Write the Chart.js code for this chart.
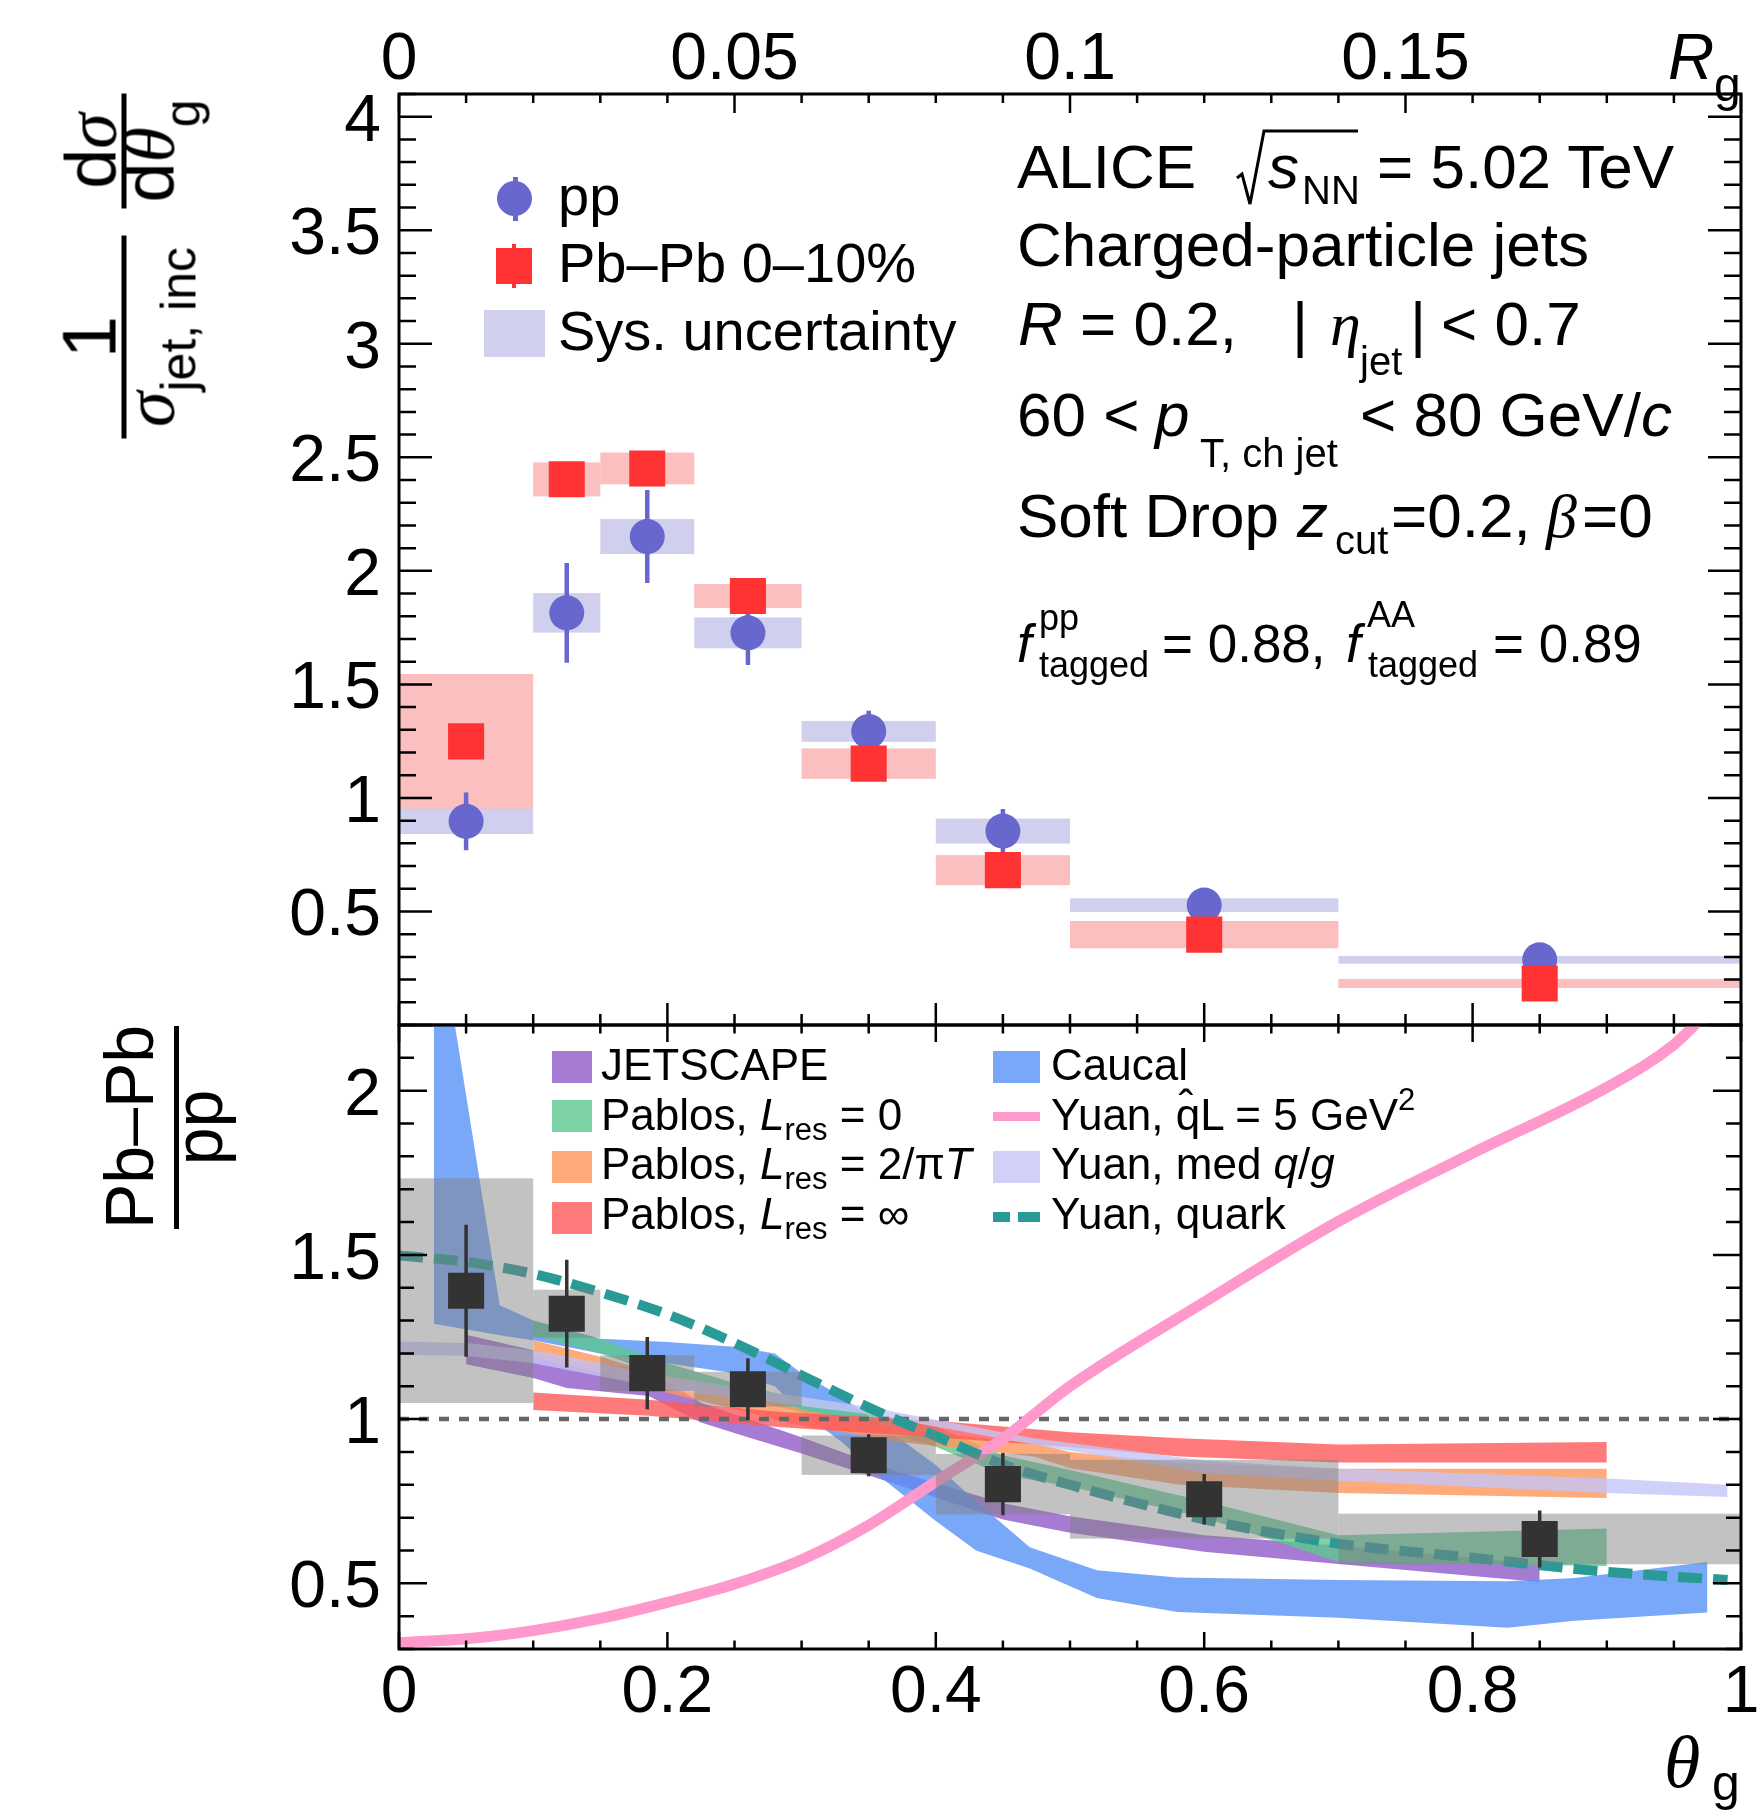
<!DOCTYPE html>
<html>
<head>
<meta charset="utf-8">
<title>ALICE groomed jet radius, Pb-Pb vs pp</title>
<script src="https://cdn.jsdelivr.net/npm/chart.js@4.4.1/dist/chart.umd.min.js"></script>
<style>
  html, body { margin: 0; padding: 0; background: #fff; }
  #wrap { position: relative; width: 1757px; height: 1815px; overflow: hidden; background: #fff;
          font-family: "Liberation Sans", Arial, Helvetica, sans-serif; color: #000; }
  #wrap canvas { position: absolute; left: 0; top: 0; }
  .t { position: absolute; white-space: nowrap; line-height: 1; }
  .g { font-family: "Liberation Serif", "Times New Roman", serif; font-style: italic; }
  .sw { position: absolute; }
</style>
</head>
<body>
<div id="wrap">
  <canvas id="topPad" width="1757" height="1815"></canvas>
  <canvas id="ratioPad" width="1757" height="1815"></canvas>
</div>
<script>
// theta_g = R_g / R
const jetR = 0.2;
const binEdges   = [0, 0.1, 0.15, 0.22, 0.3, 0.4, 0.5, 0.7, 1.0];
const binCentres = [0.05, 0.125, 0.185, 0.26, 0.35, 0.45, 0.6, 0.85];

// top pad: 1/sigma dsigma/dtheta_g
const ppValues = [0.897, 1.815, 2.151, 1.727, 1.293, 0.854, 0.528, 0.287];
const ppStat   = [0.127, 0.220, 0.205, 0.142, 0.091, 0.097, 0.030, 0.020];
const ppSys    = [0.056, 0.087, 0.077, 0.068, 0.046, 0.055, 0.030, 0.017];

const pbValues = [1.249, 2.403, 2.451, 1.889, 1.151, 0.682, 0.398, 0.183];
const pbStat   = [0.060, 0.050, 0.050, 0.040, 0.030, 0.030, 0.020, 0.015];
const pbSys    = [0.297, 0.075, 0.070, 0.053, 0.067, 0.066, 0.060, 0.020];

// bottom pad: Pb-Pb / pp
const ratioValues = [1.391, 1.321, 1.140, 1.091, 0.890, 0.802, 0.756, 0.635];
const ratioStat   = [0.201, 0.164, 0.110, 0.094, 0.064, 0.095, 0.077, 0.087];
const ratioSys    = [0.342, 0.073, 0.054, 0.053, 0.060, 0.092, 0.120, 0.077];

// model bands (lower / upper edge)
const jetscapeX  = [0.05, 0.1, 0.125, 0.186, 0.225, 0.26, 0.3, 0.36, 0.45, 0.5, 0.6, 0.7, 0.85];
const jetscapeHi = [1.257, 1.21, 1.18, 1.15, 1.05, 1.0, 0.945, 0.855, 0.744, 0.704, 0.646, 0.615, 0.559];
const jetscapeLo = [1.167, 1.125, 1.095, 1.07, 0.99, 0.945, 0.895, 0.815, 0.694, 0.654, 0.596, 0.559, 0.504];

const caucalX  = [0.026, 0.075, 0.1, 0.15, 0.2, 0.25, 0.28, 0.3, 0.33, 0.36, 0.4, 0.43, 0.47, 0.52, 0.58, 0.7, 0.826, 0.876, 0.975];
const caucalHi = [2.6, 1.347, 1.30, 1.245, 1.235, 1.22, 1.20, 1.14, 1.068, 0.98, 0.86, 0.75, 0.61, 0.54, 0.518, 0.51, 0.506, 0.516, 0.565];
const caucalLo = [1.29, 1.255, 1.24, 1.20, 1.17, 1.14, 1.10, 1.02, 0.93, 0.82, 0.69, 0.60, 0.545, 0.455, 0.413, 0.395, 0.365, 0.386, 0.411];

const pablos0X  = [0.1, 0.15, 0.2, 0.25, 0.3, 0.33, 0.4, 0.45, 0.5, 0.6, 0.7, 0.9];
const pablos0Hi = [1.30, 1.245, 1.17, 1.11, 1.06, 1.037, 0.977, 0.89, 0.845, 0.75, 0.646, 0.667];
const pablos0Lo = [1.255, 1.20, 1.13, 1.07, 1.02, 1.0, 0.916, 0.83, 0.795, 0.70, 0.565, 0.553];

const pablos2X  = [0.1, 0.15, 0.2, 0.25, 0.3, 0.374, 0.473, 0.5, 0.582, 0.7, 0.9];
const pablos2Hi = [1.24, 1.19, 1.13, 1.08, 1.03, 0.967, 0.927, 0.90, 0.866, 0.849, 0.849];
const pablos2Lo = [1.19, 1.14, 1.08, 1.03, 0.98, 0.93, 0.886, 0.85, 0.80, 0.775, 0.76];

const pablosInfX  = [0.1, 0.186, 0.285, 0.4, 0.5, 0.582, 0.7, 0.9];
const pablosInfHi = [1.081, 1.059, 1.022, 0.995, 0.96, 0.942, 0.923, 0.93];
const pablosInfLo = [1.028, 1.01, 0.975, 0.945, 0.915, 0.886, 0.868, 0.868];

const yuanMedX  = [0, 0.05, 0.1, 0.2, 0.35, 0.473, 0.6, 0.7, 0.9, 0.99];
const yuanMedHi = [1.236, 1.232, 1.21, 1.13, 1.037, 0.942, 0.874, 0.849, 0.819, 0.80];
const yuanMedLo = [1.195, 1.193, 1.17, 1.09, 1.015, 0.922, 0.837, 0.812, 0.775, 0.763];

// model curves
const yuanQhatX = [0, 0.05, 0.1, 0.15, 0.2, 0.25, 0.3, 0.35, 0.4, 0.45, 0.5, 0.6, 0.7, 0.8, 0.9, 0.95, 0.975];
const yuanQhatY = [0.319, 0.331, 0.356, 0.393, 0.442, 0.498, 0.572, 0.677, 0.81, 0.94, 1.10, 1.356, 1.602, 1.81, 2.01, 2.14, 2.24];

const yuanQuarkX = [0, 0.05, 0.1, 0.15, 0.2, 0.25, 0.3, 0.35, 0.4, 0.45, 0.5, 0.6, 0.7, 0.8, 0.9, 0.99];
const yuanQuarkY = [1.498, 1.479, 1.442, 1.386, 1.319, 1.232, 1.133, 1.035, 0.948, 0.862, 0.80, 0.695, 0.621, 0.578, 0.535, 0.51];

const unityX = [0, 1];
const unityY = [1, 1];

// tick labels
const thetaTickLabels  = ['0', '0.2', '0.4', '0.6', '0.8', '1'];
const rgTickLabels     = ['0', '0.05', '0.1', '0.15'];
const topYTickLabels   = ['0.5', '1', '1.5', '2', '2.5', '3', '3.5', '4'];
const ratioYTickLabels = ['0.5', '1', '1.5', '2'];

const FONT = '"Liberation Sans", Arial, sans-serif';

function pts(xs, ys) {
  return xs.map(function(x, i) { return {x: x, y: ys[i]}; });
}

function drawSys(chart, ds) {
  const ctx = chart.ctx, x = chart.scales.x, y = chart.scales.y, a = chart.chartArea;
  ctx.save();
  ctx.beginPath();
  ctx.rect(a.left, a.top, a.right - a.left, a.bottom - a.top);
  ctx.clip();
  ctx.fillStyle = ds.sysColor;
  ds.data.forEach(function(p, k) {
    const x0 = x.getPixelForValue(binEdges[k]), x1 = x.getPixelForValue(binEdges[k + 1]);
    const y0 = y.getPixelForValue(p.y + ds.sys[k]), y1 = y.getPixelForValue(p.y - ds.sys[k]);
    ctx.fillRect(x0, y0, x1 - x0, y1 - y0);
  });
  ctx.restore();
}

function drawStat(chart, ds) {
  const ctx = chart.ctx, x = chart.scales.x, y = chart.scales.y;
  ctx.save();
  ctx.strokeStyle = ds.statColor;
  ctx.lineWidth = ds.statWidth;
  ctx.beginPath();
  ds.data.forEach(function(p, k) {
    const px = x.getPixelForValue(p.x);
    ctx.moveTo(px, y.getPixelForValue(p.y + ds.stat[k]));
    ctx.lineTo(px, y.getPixelForValue(p.y - ds.stat[k]));
  });
  ctx.stroke();
  ctx.restore();
}

const frames = {
  topPad:   { yLen: [33, 17], xBotLen: [22, 11], xTopLen: [19, 9], topMajorEvery: 5,
              yLabels: topYTickLabels, xLabels: null, topLabels: rgTickLabels },
  ratioPad: { yLen: [28, 15], xBotLen: [17, 8.5], xTopLen: [17, 8.5], topMajorEvery: 4,
              yLabels: ratioYTickLabels, xLabels: thetaTickLabels, topLabels: null }
};

function drawFrame(chart) {
  const f = frames[chart.canvas.id];
  const ctx = chart.ctx, x = chart.scales.x, y = chart.scales.y, a = chart.chartArea;
  ctx.save();
  ctx.strokeStyle = '#000';
  ctx.lineWidth = 2.5;
  ctx.beginPath();
  for (let k = 0; k <= 20; k++) {
    const px = x.getPixelForValue(k / 20);
    const lb = (k % 4 === 0) ? f.xBotLen[0] : f.xBotLen[1];
    ctx.moveTo(px, a.bottom); ctx.lineTo(px, a.bottom - lb);
    const lt = (k % f.topMajorEvery === 0) ? f.xTopLen[0] : f.xTopLen[1];
    ctx.moveTo(px, a.top); ctx.lineTo(px, a.top + lt);
  }
  const k0 = Math.ceil(y.min * 10 - 1e-6), k1 = Math.floor(y.max * 10 + 1e-6);
  for (let k = k0; k <= k1; k++) {
    const py = y.getPixelForValue(k / 10);
    const l = (k % 5 === 0) ? f.yLen[0] : f.yLen[1];
    ctx.moveTo(a.left, py); ctx.lineTo(a.left + l, py);
    ctx.moveTo(a.right, py); ctx.lineTo(a.right - l, py);
  }
  ctx.stroke();
  ctx.lineWidth = 3;
  ctx.strokeRect(a.left, a.top, a.right - a.left, a.bottom - a.top);

  ctx.fillStyle = '#000';
  ctx.font = '66px ' + FONT;
  ctx.textBaseline = 'alphabetic';
  ctx.textAlign = 'right';
  f.yLabels.forEach(function(s) {
    ctx.fillText(s, a.left - 18, y.getPixelForValue(parseFloat(s)) + 24);
  });
  ctx.textAlign = 'center';
  if (f.xLabels) {
    f.xLabels.forEach(function(s) {
      ctx.fillText(s, x.getPixelForValue(parseFloat(s)), a.bottom + 63);
    });
  }
  if (f.topLabels) {
    f.topLabels.forEach(function(s) {
      ctx.fillText(s, x.getPixelForValue(parseFloat(s) / jetR), a.top - 15);
    });
  }
  ctx.restore();
}

const rootStyle = {
  id: 'rootStyle',
  beforeDatasetsDraw(chart) {
    chart.data.datasets.forEach(function(ds) { if (ds.sys && ds.sysUnder) drawSys(chart, ds); });
  },
  beforeDatasetDraw(chart, args) {
    const ds = chart.data.datasets[args.index];
    if (ds.sys && !ds.sysUnder) drawSys(chart, ds);
    if (ds.stat) drawStat(chart, ds);
  },
  afterDraw(chart) { drawFrame(chart); }
};

function baseOptions(pad, yMin, yMax) {
  return {
    responsive: false, animation: false, devicePixelRatio: 1, events: [],
    layout: { padding: pad, autoPadding: false },
    scales: {
      x: { type: 'linear', min: 0, max: 1, display: false },
      y: { type: 'linear', min: yMin, max: yMax, display: false }
    },
    plugins: { legend: { display: false }, tooltip: { enabled: false } }
  };
}

// ---------- top pad ----------
new Chart(document.getElementById('topPad'), {
  type: 'scatter',
  data: {
    datasets: [
      { label: 'Pb\u2013Pb 0\u201310%', data: pts(binCentres, pbValues), order: 1,
        pointStyle: 'rect', pointRadius: 25.5, backgroundColor: '#ff3333', borderColor: '#ff3333', borderWidth: 0,
        stat: pbStat, statColor: '#ff3333', statWidth: 4,
        sys: pbSys, sysColor: 'rgba(250,128,128,0.5)', sysUnder: true },
      { label: 'pp', data: pts(binCentres, ppValues), order: 2,
        pointStyle: 'circle', pointRadius: 17.5, backgroundColor: '#6767cd', borderColor: '#6767cd', borderWidth: 0,
        stat: ppStat, statColor: '#6767cd', statWidth: 4.5,
        sys: ppSys, sysColor: 'rgba(161,161,221,0.5)', sysUnder: true }
    ]
  },
  options: baseOptions({ left: 399, right: 16, top: 94, bottom: 790 }, 0, 4.1),
  plugins: [rootStyle]
});

// ---------- ratio pad ----------
function band(label, xs, lo, hi, color, lowIndex) {
  return [
    { type: 'line', label: label + ' (low)', data: pts(xs, lo), fill: false, tension: 0,
      borderWidth: 0, borderColor: 'rgba(0,0,0,0)', pointRadius: 0 },
    { type: 'line', label: label, data: pts(xs, hi), fill: lowIndex, tension: 0,
      borderWidth: 0, borderColor: 'rgba(0,0,0,0)', backgroundColor: color, pointRadius: 0 }
  ];
}

const COL = {
  jetscape: 'rgba(144,90,201,0.8)',
  caucal:   'rgba(89,146,246,0.8)',
  pablos0:  'rgba(92,200,144,0.8)',
  pablos2:  'rgba(255,149,89,0.8)',
  pablosInf:'rgba(255,89,89,0.8)',
  yuanMed:  'rgba(196,196,246,0.8)',
  yuanQhat: '#ff99cc',
  yuanQuark:'#2a9a96'
};

const ratioSets = [].concat(
  band('JETSCAPE', jetscapeX, jetscapeLo, jetscapeHi, COL.jetscape, 0),
  band('Caucal', caucalX, caucalLo, caucalHi, COL.caucal, 2),
  band('Pablos, Lres = 0', pablos0X, pablos0Lo, pablos0Hi, COL.pablos0, 4),
  band('Pablos, Lres = 2/piT', pablos2X, pablos2Lo, pablos2Hi, COL.pablos2, 6),
  band('Pablos, Lres = inf', pablosInfX, pablosInfLo, pablosInfHi, COL.pablosInf, 8),
  band('Yuan, med q/g', yuanMedX, yuanMedLo, yuanMedHi, COL.yuanMed, 10),
  [
    { type: 'line', label: 'unity', data: pts(unityX, unityY), fill: false, tension: 0, clip: 0,
      borderColor: '#666666', borderWidth: 4.5, borderDash: [10, 10], pointRadius: 0 },
    { type: 'line', label: 'Yuan, qhat L = 5 GeV2', data: pts(yuanQhatX, yuanQhatY), fill: false,
      cubicInterpolationMode: 'monotone', clip: 0,
      borderColor: COL.yuanQhat, borderWidth: 11, pointRadius: 0 },
    { type: 'line', label: 'Yuan, quark', data: pts(yuanQuarkX, yuanQuarkY), fill: false,
      cubicInterpolationMode: 'monotone', clip: 0,
      borderColor: COL.yuanQuark, borderWidth: 10, borderDash: [24, 11], pointRadius: 0 },
    { label: 'Pb\u2013Pb / pp', data: pts(binCentres, ratioValues),
      pointStyle: 'rect', pointRadius: 25.5, backgroundColor: '#333333', borderColor: '#333333', borderWidth: 0,
      stat: ratioStat, statColor: '#333333', statWidth: 3.5,
      sys: ratioSys, sysColor: 'rgba(128,128,128,0.48)', sysUnder: false }
  ]
);
ratioSets.forEach(function(d, i) { d.order = 100 - i; });

new Chart(document.getElementById('ratioPad'), {
  type: 'scatter',
  data: { datasets: ratioSets },
  options: baseOptions({ left: 399, right: 16, top: 1025, bottom: 166 }, 0.3, 2.2),
  plugins: [rootStyle]
});

// ---------- text, legends, titles ----------
const wrap = document.getElementById('wrap');

function put(html, x, base, size, css) {
  const d = document.createElement('div');
  d.className = 't';
  d.style.left = x + 'px';
  d.style.top = (base - 0.8465 * size).toFixed(1) + 'px';
  d.style.fontSize = size + 'px';
  if (css) d.style.cssText += css;
  d.innerHTML = html;
  wrap.appendChild(d);
  return d;
}
function box(x, y, w, h, color, css) {
  const d = document.createElement('div');
  d.className = 'sw';
  d.style.cssText += 'left:' + x + 'px;top:' + y + 'px;width:' + w + 'px;height:' + h + 'px;background:' + color + ';' + (css || '');
  wrap.appendChild(d);
  return d;
}

// ALICE block
put('ALICE', 1017, 188, 62);
wrap.insertAdjacentHTML('beforeend',
  '<svg style="position:absolute;left:0;top:0" width="1757" height="260">' +
  '<polyline points="1237,178 1242,174 1250,204 1264,131 1358,131" fill="none" stroke="#000" stroke-width="3"/></svg>');
put('<i>s</i>', 1268, 188, 62);
put('NN', 1302, 204, 40);
put('= 5.02 TeV', 1377, 188, 62);

put('Charged-particle jets', 1017, 266, 62);

put('<i>R</i> = 0.2,', 1018, 345, 62);
put('|', 1292, 345, 62);
put('<span class="g">\u03b7</span>', 1330, 345, 62);
put('jet', 1360, 375, 40);
put('|', 1410, 345, 62);
put('&lt; 0.7', 1441, 345, 62);

put('60 &lt;', 1017, 436, 62);
put('<i>p</i>', 1155, 436, 62);
put('T, ch jet', 1200, 467, 40);
put('&lt; 80 GeV/<i>c</i>', 1360, 436, 62);

put('Soft Drop', 1017, 537, 62);
put('<i>z</i>', 1297, 537, 62);
put('cut', 1335, 554, 40);
put('=0.2,', 1391, 537, 62);
put('<span class="g">\u03b2</span>', 1546, 537, 62);
put('=0', 1582, 537, 62);

put('<i>f</i>', 1017, 662, 53);
put('pp', 1039, 630, 36);
put('tagged', 1039, 677, 36);
put('= 0.88,', 1162, 662, 53);
put('<i>f</i>', 1346, 662, 53);
put('AA', 1367, 627, 36);
put('tagged', 1368, 677, 36);
put('= 0.89', 1493, 662, 53);

// top legend
box(513, 177, 4.5, 44, '#6767cd');
box(497, 181, 35, 35, '#6767cd', 'border-radius:50%;');
put('pp', 558, 215, 56);
box(512, 244, 4, 44, '#ff3333');
box(496, 248, 36, 36, '#ff3333');
put('Pb\u2013Pb 0\u201310%', 558, 282, 56);
box(484, 310, 61, 47, 'rgba(161,161,221,0.5)');
put('Sys. uncertainty', 558, 350, 56);

// ratio legend
const sub = function(s) { return '<span style="position:relative;top:10px;font-size:31px">' + s + '</span>'; };
box(552, 1051, 40, 32, COL.jetscape);
put('JETSCAPE', 601, 1080, 44);
box(552, 1100, 40, 32, COL.pablos0);
put('Pablos, <i>L</i>' + sub('res') + ' = 0', 601, 1130, 44);
box(552, 1151, 40, 32, COL.pablos2);
put('Pablos, <i>L</i>' + sub('res') + ' = 2/\u03c0<i>T</i>', 601, 1179, 44);
box(552, 1202, 40, 32, COL.pablosInf);
put('Pablos, <i>L</i>' + sub('res') + ' = \u221e', 601, 1229, 44);

box(993, 1051, 47, 32, COL.caucal);
put('Caucal', 1051, 1080, 44);
box(993, 1112, 47, 9, COL.yuanQhat);
put('Yuan, <span style="position:relative">q<span style="position:absolute;left:3px;top:-6px">\u02c6</span></span>L = 5 GeV' +
    '<span style="position:relative;top:-20px;font-size:31px">2</span>', 1051, 1130, 44);
box(993, 1151, 47, 32, COL.yuanMed);
put('Yuan, med <i>q</i>/<i>g</i>', 1051, 1179, 44);
box(993, 1212, 17, 10, COL.yuanQuark);
box(1018, 1212, 22, 10, COL.yuanQuark);
put('Yuan, quark', 1051, 1229, 44);

// axis titles
put('<span class="g">\u03b8</span>', 1664, 1788, 74);
put('g', 1712, 1800, 50);
put('<i>R</i>', 1668, 79, 64);
put('g', 1714, 102, 48);

wrap.insertAdjacentHTML('beforeend',
  '<div style="position:absolute;left:-32.5px;top:181px;width:345px;height:170px;transform:rotate(-90deg);">' +
    '<div class="t" style="left:0;top:-4px;width:203px;text-align:center;font-size:76px">1</div>' +
    '<div style="position:absolute;left:0;top:66px;width:203px;height:5px;background:#000"></div>' +
    '<div class="t" style="left:0;top:57px;width:203px;text-align:center;font-size:72px">' +
      '<span class="g">\u03c3</span><span style="position:relative;top:22px;font-size:50px">jet, inc</span></div>' +
    '<div class="t" style="left:230px;top:-1px;width:115px;text-align:center;font-size:72px">d<span class="g">\u03c3</span></div>' +
    '<div style="position:absolute;left:230px;top:66px;width:115px;height:5px;background:#000"></div>' +
    '<div class="t" style="left:230px;top:57px;width:115px;text-align:center;font-size:72px">' +
      'd<span class="g">\u03b8</span><span style="position:relative;top:26px;font-size:50px">g</span></div>' +
  '</div>');

wrap.insertAdjacentHTML('beforeend',
  '<div style="position:absolute;left:65px;top:1057px;width:210px;height:140px;transform:rotate(-90deg);">' +
    '<div class="t" style="left:3px;top:-4.6px;width:203px;text-align:center;font-size:68px">Pb\u2013Pb</div>' +
    '<div style="position:absolute;left:3px;top:74px;width:203px;height:5px;background:#000"></div>' +
    '<div class="t" style="left:3px;top:64.4px;width:203px;text-align:center;font-size:68px">pp</div>' +
  '</div>');
</script>
</body>
</html>
